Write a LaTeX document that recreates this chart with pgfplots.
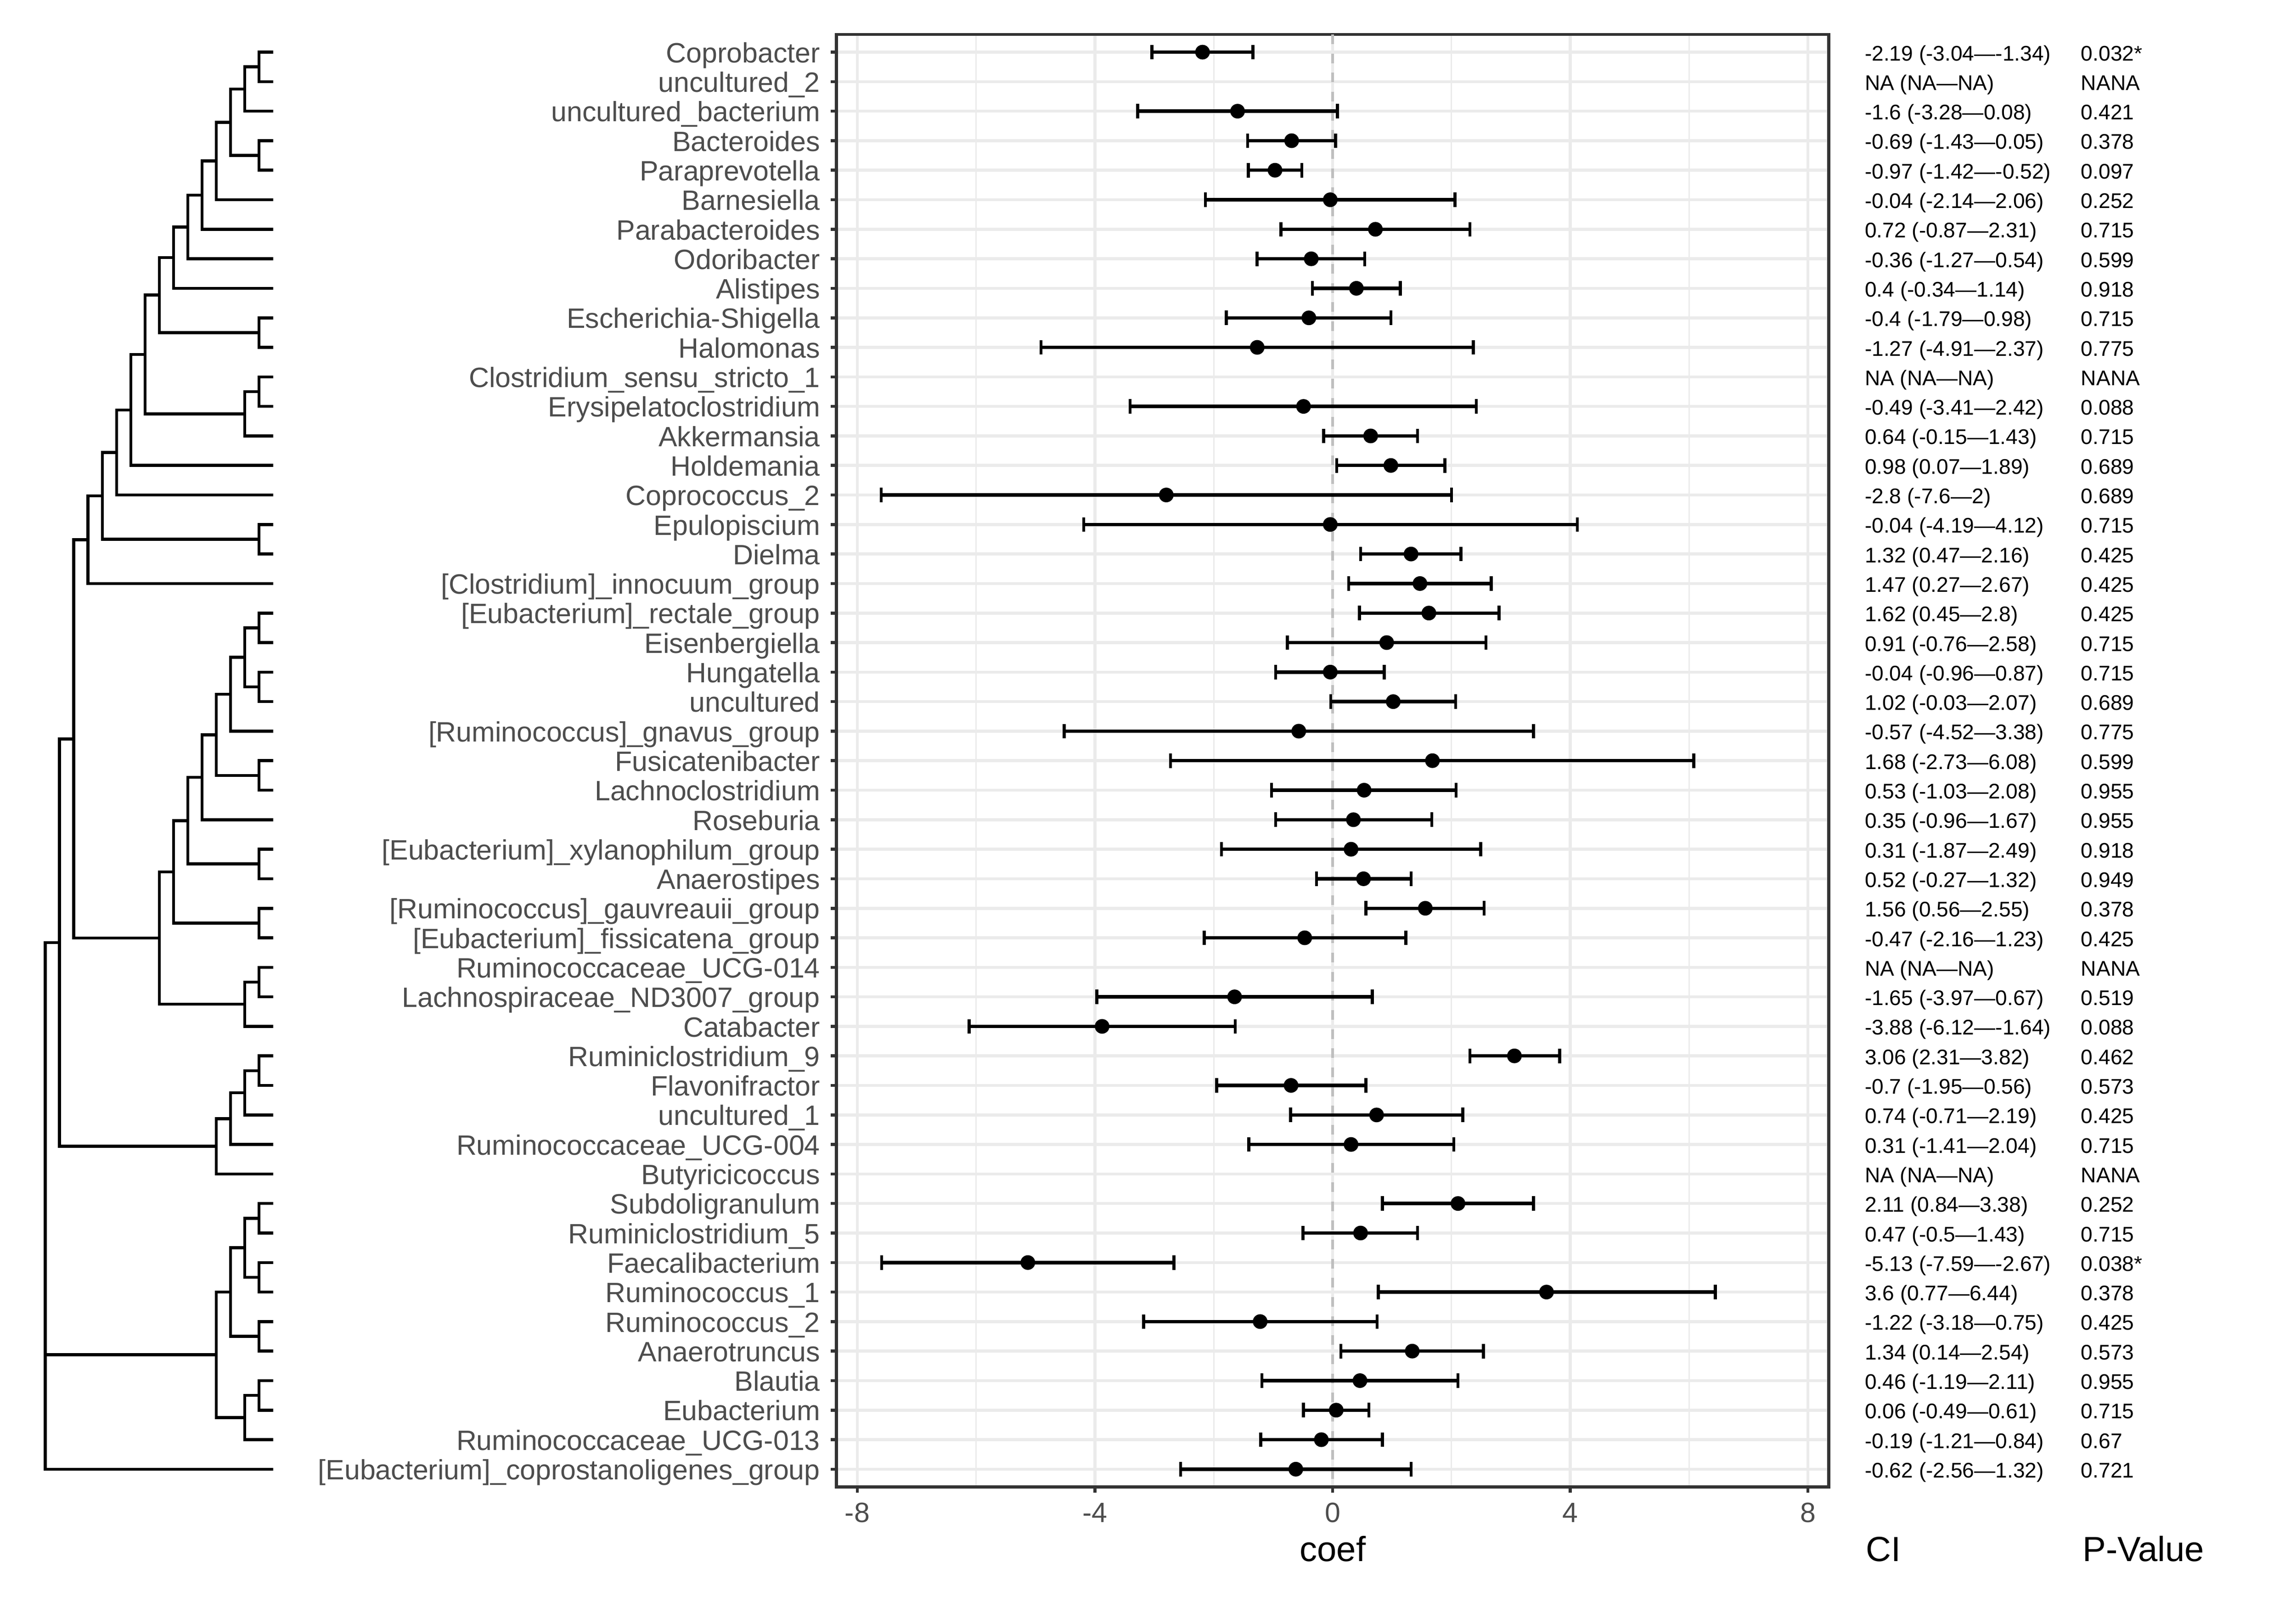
\documentclass[border=0pt]{standalone}
\usepackage{fontspec}
\setmainfont{Liberation Sans}
\usepackage{pgfplots}
\usepackage{pgfplotstable}
\pgfplotsset{compat=1.18}

\definecolor{grid92}{HTML}{EBEBEB}
\definecolor{grey20}{HTML}{333333}
\definecolor{grey30}{HTML}{4D4D4D}
\definecolor{zerogrey}{HTML}{BEBEBE}

% row; coef; lower; upper; CI text; p-value text
\pgfplotstableread[col sep=semicolon]{
row;coef;lo;hi;ci;p
1;-2.19;-3.04;-1.34;-2.19 (-3.04—-1.34);0.032*
2;nan;nan;nan;NA (NA—NA);NANA
3;-1.6;-3.28;0.08;-1.6 (-3.28—0.08);0.421
4;-0.69;-1.43;0.05;-0.69 (-1.43—0.05);0.378
5;-0.97;-1.42;-0.52;-0.97 (-1.42—-0.52);0.097
6;-0.04;-2.14;2.06;-0.04 (-2.14—2.06);0.252
7;0.72;-0.87;2.31;0.72 (-0.87—2.31);0.715
8;-0.36;-1.27;0.54;-0.36 (-1.27—0.54);0.599
9;0.4;-0.34;1.14;0.4 (-0.34—1.14);0.918
10;-0.4;-1.79;0.98;-0.4 (-1.79—0.98);0.715
11;-1.27;-4.91;2.37;-1.27 (-4.91—2.37);0.775
12;nan;nan;nan;NA (NA—NA);NANA
13;-0.49;-3.41;2.42;-0.49 (-3.41—2.42);0.088
14;0.64;-0.15;1.43;0.64 (-0.15—1.43);0.715
15;0.98;0.07;1.89;0.98 (0.07—1.89);0.689
16;-2.8;-7.6;2;-2.8 (-7.6—2);0.689
17;-0.04;-4.19;4.12;-0.04 (-4.19—4.12);0.715
18;1.32;0.47;2.16;1.32 (0.47—2.16);0.425
19;1.47;0.27;2.67;1.47 (0.27—2.67);0.425
20;1.62;0.45;2.8;1.62 (0.45—2.8);0.425
21;0.91;-0.76;2.58;0.91 (-0.76—2.58);0.715
22;-0.04;-0.96;0.87;-0.04 (-0.96—0.87);0.715
23;1.02;-0.03;2.07;1.02 (-0.03—2.07);0.689
24;-0.57;-4.52;3.38;-0.57 (-4.52—3.38);0.775
25;1.68;-2.73;6.08;1.68 (-2.73—6.08);0.599
26;0.53;-1.03;2.08;0.53 (-1.03—2.08);0.955
27;0.35;-0.96;1.67;0.35 (-0.96—1.67);0.955
28;0.31;-1.87;2.49;0.31 (-1.87—2.49);0.918
29;0.52;-0.27;1.32;0.52 (-0.27—1.32);0.949
30;1.56;0.56;2.55;1.56 (0.56—2.55);0.378
31;-0.47;-2.16;1.23;-0.47 (-2.16—1.23);0.425
32;nan;nan;nan;NA (NA—NA);NANA
33;-1.65;-3.97;0.67;-1.65 (-3.97—0.67);0.519
34;-3.88;-6.12;-1.64;-3.88 (-6.12—-1.64);0.088
35;3.06;2.31;3.82;3.06 (2.31—3.82);0.462
36;-0.7;-1.95;0.56;-0.7 (-1.95—0.56);0.573
37;0.74;-0.71;2.19;0.74 (-0.71—2.19);0.425
38;0.31;-1.41;2.04;0.31 (-1.41—2.04);0.715
39;nan;nan;nan;NA (NA—NA);NANA
40;2.11;0.84;3.38;2.11 (0.84—3.38);0.252
41;0.47;-0.5;1.43;0.47 (-0.5—1.43);0.715
42;-5.13;-7.59;-2.67;-5.13 (-7.59—-2.67);0.038*
43;3.6;0.77;6.44;3.6 (0.77—6.44);0.378
44;-1.22;-3.18;0.75;-1.22 (-3.18—0.75);0.425
45;1.34;0.14;2.54;1.34 (0.14—2.54);0.573
46;0.46;-1.19;2.11;0.46 (-1.19—2.11);0.955
47;0.06;-0.49;0.61;0.06 (-0.49—0.61);0.715
48;-0.19;-1.21;0.84;-0.19 (-1.21—0.84);0.67
49;-0.62;-2.56;1.32;-0.62 (-2.56—1.32);0.721
}\forest

\begin{document}
\begin{tikzpicture}
\useasboundingbox (0,0) rectangle (1080bp,756bp);

% dendrogram: one bracket per internal node, depth 0..16, rows 1..49
\begin{axis}[
    at={(21.31bp,56.5bp)}, anchor=south west,
    scale only axis, width=107.26bp, height=683.3bp,
    xmin=0, xmax=16, ymin=0.4, ymax=49.6, y dir=reverse,
    hide axis, clip=false,
]
\addplot[black, line width=1.42bp, mark=none, unbounded coords=jump] table[row sep=\\] {
x y\\
16 1\\ 15 1\\ 15 2\\ 16 2\\ nan nan\\
15 1.5\\ 14 1.5\\ 14 3\\ 16 3\\ nan nan\\
16 4\\ 15 4\\ 15 5\\ 16 5\\ nan nan\\
14 2.25\\ 13 2.25\\ 13 4.5\\ 15 4.5\\ nan nan\\
13 3.375\\ 12 3.375\\ 12 6\\ 16 6\\ nan nan\\
12 4.6875\\ 11 4.6875\\ 11 7\\ 16 7\\ nan nan\\
11 5.84375\\ 10 5.84375\\ 10 8\\ 16 8\\ nan nan\\
10 6.921875\\ 9 6.921875\\ 9 9\\ 16 9\\ nan nan\\
16 10\\ 15 10\\ 15 11\\ 16 11\\ nan nan\\
9 7.9609\\ 8 7.9609\\ 8 10.5\\ 15 10.5\\ nan nan\\
16 12\\ 15 12\\ 15 13\\ 16 13\\ nan nan\\
15 12.5\\ 14 12.5\\ 14 14\\ 16 14\\ nan nan\\
8 9.2305\\ 7 9.2305\\ 7 13.25\\ 14 13.25\\ nan nan\\
7 11.2402\\ 6 11.2402\\ 6 15\\ 16 15\\ nan nan\\
6 13.1201\\ 5 13.1201\\ 5 16\\ 16 16\\ nan nan\\
16 17\\ 15 17\\ 15 18\\ 16 18\\ nan nan\\
5 14.5601\\ 4 14.5601\\ 4 17.5\\ 15 17.5\\ nan nan\\
4 16.03\\ 3 16.03\\ 3 19\\ 16 19\\ nan nan\\
16 20\\ 15 20\\ 15 21\\ 16 21\\ nan nan\\
16 22\\ 15 22\\ 15 23\\ 16 23\\ nan nan\\
15 20.5\\ 14 20.5\\ 14 22.5\\ 15 22.5\\ nan nan\\
14 21.5\\ 13 21.5\\ 13 24\\ 16 24\\ nan nan\\
16 25\\ 15 25\\ 15 26\\ 16 26\\ nan nan\\
13 22.75\\ 12 22.75\\ 12 25.5\\ 15 25.5\\ nan nan\\
12 24.125\\ 11 24.125\\ 11 27\\ 16 27\\ nan nan\\
16 28\\ 15 28\\ 15 29\\ 16 29\\ nan nan\\
11 25.5625\\ 10 25.5625\\ 10 28.5\\ 15 28.5\\ nan nan\\
16 30\\ 15 30\\ 15 31\\ 16 31\\ nan nan\\
10 27.0313\\ 9 27.0313\\ 9 30.5\\ 15 30.5\\ nan nan\\
16 32\\ 15 32\\ 15 33\\ 16 33\\ nan nan\\
15 32.5\\ 14 32.5\\ 14 34\\ 16 34\\ nan nan\\
9 28.7656\\ 8 28.7656\\ 8 33.25\\ 14 33.25\\ nan nan\\
3 17.515\\ 2 17.515\\ 2 31.0078\\ 8 31.0078\\ nan nan\\
16 35\\ 15 35\\ 15 36\\ 16 36\\ nan nan\\
15 35.5\\ 14 35.5\\ 14 37\\ 16 37\\ nan nan\\
14 36.25\\ 13 36.25\\ 13 38\\ 16 38\\ nan nan\\
13 37.125\\ 12 37.125\\ 12 39\\ 16 39\\ nan nan\\
2 24.2614\\ 1 24.2614\\ 1 38.0625\\ 12 38.0625\\ nan nan\\
16 40\\ 15 40\\ 15 41\\ 16 41\\ nan nan\\
16 42\\ 15 42\\ 15 43\\ 16 43\\ nan nan\\
15 40.5\\ 14 40.5\\ 14 42.5\\ 15 42.5\\ nan nan\\
16 44\\ 15 44\\ 15 45\\ 16 45\\ nan nan\\
14 41.5\\ 13 41.5\\ 13 44.5\\ 15 44.5\\ nan nan\\
16 46\\ 15 46\\ 15 47\\ 16 47\\ nan nan\\
15 46.5\\ 14 46.5\\ 14 48\\ 16 48\\ nan nan\\
13 43\\ 12 43\\ 12 47.25\\ 14 47.25\\ nan nan\\
1 31.1619\\ 0 31.1619\\ 0 49\\ 16 49\\ nan nan\\
0 45.125\\ 12 45.125\\
};
\end{axis}

% forest plot
\begin{axis}[
    at={(393.5bp,56.5bp)}, anchor=south west,
    scale only axis, width=466.7bp, height=683.3bp,
    xmin=-8.35, xmax=8.35, ymin=0.4, ymax=49.6, y dir=reverse,
    xtick={-8,-4,0,4,8}, xticklabels={-8,-4,0,4,8},
    minor xtick={-6,-2,2,6},
    ytick={1,...,49},
    yticklabels={Coprobacter, uncultured\_2, uncultured\_bacterium, Bacteroides,
      Paraprevotella, Barnesiella, Parabacteroides, Odoribacter, Alistipes,
      Escherichia-Shigella, Halomonas, Clostridium\_sensu\_stricto\_1,
      Erysipelatoclostridium, Akkermansia, Holdemania, Coprococcus\_2,
      Epulopiscium, Dielma, {[Clostridium]\_innocuum\_group},
      {[Eubacterium]\_rectale\_group}, Eisenbergiella, Hungatella, uncultured,
      {[Ruminococcus]\_gnavus\_group}, Fusicatenibacter, Lachnoclostridium,
      Roseburia, {[Eubacterium]\_xylanophilum\_group}, Anaerostipes,
      {[Ruminococcus]\_gauvreauii\_group}, {[Eubacterium]\_fissicatena\_group},
      Ruminococcaceae\_UCG-014, Lachnospiraceae\_ND3007\_group, Catabacter,
      Ruminiclostridium\_9, Flavonifractor, uncultured\_1,
      Ruminococcaceae\_UCG-004, Butyricicoccus, Subdoligranulum,
      Ruminiclostridium\_5, Faecalibacterium, Ruminococcus\_1, Ruminococcus\_2,
      Anaerotruncus, Blautia, Eubacterium, Ruminococcaceae\_UCG-013,
      {[Eubacterium]\_coprostanoligenes\_group}},
    tick pos=left, tick align=outside,
    major tick length=2.75bp, minor tick length=0pt,
    tick style={line width=1.42bp, color=grey20},
    xmajorgrids, xminorgrids, ymajorgrids,
    major grid style={line width=1.42bp, color=grid92},
    minor grid style={line width=0.71bp, color=grid92},
    axis line style={line width=1.42bp, color=grey20},
    ticklabel style={font=\fontsize{13.2}{15}\selectfont, text=grey30},
    yticklabel style={anchor=base east, inner sep=0pt, xshift=-4.8bp, yshift=-4.9bp},
    xticklabel style={anchor=north, inner sep=0pt, yshift=-4.6bp},
]
\addplot[color=zerogrey, line width=1.42bp, dash pattern=on 4.5bp off 4.5bp, forget plot]
    coordinates {(0,0.4) (0,49.6)};
\addplot[only marks, mark=*, mark size=3.3bp,
    mark options={draw=black, fill=black, line width=0.3bp},
    error bars/.cd, x dir=both, x explicit, error mark=|,
    error bar style={line width=1.6bp, black},
    error mark options={black, line width=1.42bp, mark size=3.42bp}]
    table[x=coef, y=row,
      x error plus expr=\thisrow{hi}-\thisrow{coef},
      x error minus expr=\thisrow{coef}-\thisrow{lo}] {\forest};
\end{axis}

% CI and p-value columns
\begin{axis}[
    at={(877.0bp,56.5bp)}, anchor=south west,
    scale only axis, width=101.7bp, height=683.3bp,
    xmin=0, xmax=1, ymin=0.4, ymax=49.6, y dir=reverse,
    hide axis, clip=false,
    every node near coord/.append style={anchor=base west, inner sep=0pt,
      yshift=-4.0bp, font=\fontsize{10}{12}\selectfont, text=black},
]
\addplot[draw=none, mark=none, nodes near coords, point meta=explicit symbolic]
    table[x expr=0, y=row, meta=ci] {\forest};
\addplot[draw=none, mark=none, nodes near coords, point meta=explicit symbolic]
    table[x expr=1, y=row, meta=p] {\forest};
\end{axis}

\node[anchor=base, font=\fontsize{16.5}{19}\selectfont] at (626.9bp,21.6bp) {coef};
\node[anchor=base west, inner sep=0pt, font=\fontsize{16.5}{19}\selectfont] at (877.5bp,21.6bp) {CI};
\node[anchor=base west, inner sep=0pt, font=\fontsize{16.5}{19}\selectfont] at (979.4bp,21.6bp) {P-Value};
\end{tikzpicture}
\end{document}
